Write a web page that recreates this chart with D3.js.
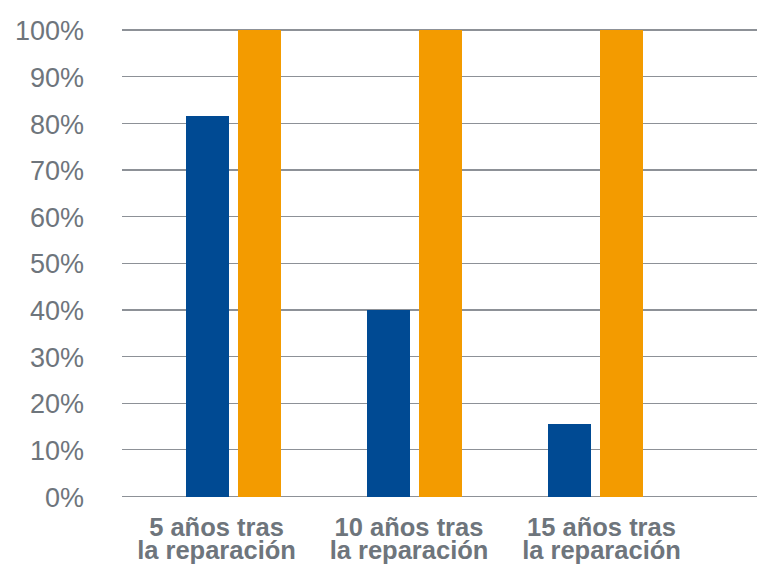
<!DOCTYPE html>
<html lang="es">
<head>
<meta charset="utf-8">
<title>Porcentaje a 5, 10 y 15 años tras la reparación</title>
<script src="https://cdn.jsdelivr.net/npm/d3@7/dist/d3.min.js"></script>
<style>
  html, body { margin: 0; padding: 0; background: #ffffff; }
  svg { display: block; }
  text { font-family: "Liberation Sans", Arial, Helvetica, sans-serif; fill: #6e757c; }
</style>
</head>
<body>
<svg id="chart" width="757" height="564"></svg>
<script>
// Categories (two-line labels) and series values in percent
const categories = ["5 años tras|la reparación", "10 años tras|la reparación", "15 años tras|la reparación"];
const seriesKeys = ["serieA", "serieB"];
const serieA = [81.5, 40, 15.5];
const serieB = [100, 100, 100];
const seriesColors = ["#004a93", "#f39b00"];
const yTicks = [0, 10, 20, 30, 40, 50, 60, 70, 80, 90, 100];

const rows = categories.map((c, i) => ({ cat: c, serieA: serieA[i], serieB: serieB[i] }));

const svg = d3.select("#chart");
const W = 757;
const gridLeft = 122;

const y = d3.scaleLinear().domain([0, 100]).range([496.5, 30]);

// Group positions for the bars
const x = d3.scaleBand()
  .domain(categories)
  .range([143, 686])
  .paddingInner(86 / 181)
  .paddingOuter(43 / 181);

const xs = d3.scaleBand()
  .domain(seriesKeys)
  .range([0, x.bandwidth()])
  .paddingInner(9 / 52)
  .paddingOuter(0);

// Label positions along the category axis
const xLabel = d3.scalePoint()
  .domain(categories)
  .range([216, 601]);

const color = d3.scaleOrdinal().domain(seriesKeys).range(seriesColors);

// Horizontal gridlines
svg.append("g")
  .selectAll("line")
  .data(yTicks)
  .join("line")
  .attr("x1", gridLeft)
  .attr("x2", W)
  .attr("y1", d => y(d))
  .attr("y2", d => y(d))
  .attr("stroke", "#8d9197")
  .attr("stroke-width", 1.2)
  .attr("shape-rendering", "crispEdges");

// Y axis labels
const yAxis = d3.axisLeft(y)
  .tickValues(yTicks)
  .tickFormat(d => d + "%")
  .tickSize(0)
  .tickPadding(0);

const yg = svg.append("g")
  .attr("transform", "translate(84,0)")
  .call(yAxis);
yg.select(".domain").remove();
yg.selectAll("text")
  .attr("font-size", 27)
  .attr("dy", "0.36em")
  .style("font-family", "'Liberation Sans', Arial, sans-serif")
  .attr("fill", "#6e757c");

// Bars
svg.append("g")
  .selectAll("g")
  .data(rows)
  .join("g")
  .attr("transform", d => `translate(${x(d.cat)},0)`)
  .selectAll("rect")
  .data(d => seriesKeys.map(k => ({ key: k, value: d[k] })))
  .join("rect")
  .attr("x", d => xs(d.key))
  .attr("width", xs.bandwidth())
  .attr("y", d => y(d.value))
  .attr("height", d => y(0) - y(d.value))
  .attr("fill", d => color(d.key))
  .attr("shape-rendering", "crispEdges");

// Category labels (two lines each)
const xAxis = d3.axisBottom(xLabel).tickSize(0).tickFormat("");
const xg = svg.append("g")
  .attr("transform", `translate(0,${y(0)})`)
  .call(xAxis);
xg.select(".domain").remove();
xg.selectAll(".tick").each(function (d) {
  const lines = d.split("|");
  const g = d3.select(this);
  lines.forEach((ln, i) => {
    g.append("text")
      .attr("text-anchor", "middle")
      .attr("font-size", 25.5)
      .attr("font-weight", "bold")
      .attr("fill", "#6e757c")
      .style("font-family", "'Liberation Sans', Arial, sans-serif")
      .attr("x", 0)
      .attr("y", 39.5 + i * 22.5)
      .text(ln);
  });
});
</script>
</body>
</html>
